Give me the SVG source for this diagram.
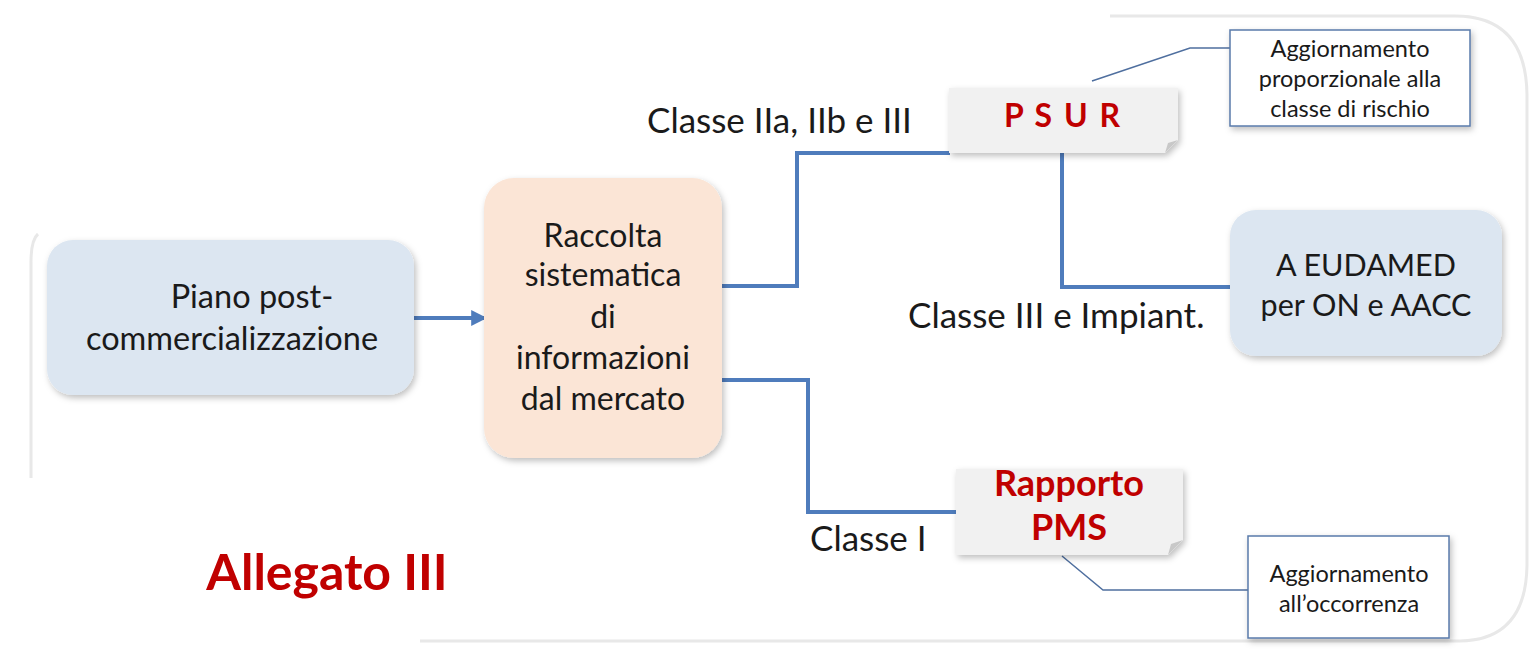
<svg xmlns="http://www.w3.org/2000/svg" width="1532" height="649" viewBox="0 0 1532 649">
<defs>
<style>
.t{font-family:Lato,"Liberation Sans",sans-serif;fill:#1a1a1a;text-anchor:middle}
.lbl{font-family:Lato,"Liberation Sans",sans-serif;fill:#1a1a1a;font-size:35px}
.red{font-family:Lato,"Liberation Sans",sans-serif;fill:#c00000;font-weight:bold;text-anchor:middle}
.conn{fill:none;stroke:#4f7cbc;stroke-width:4}
.thin{fill:none;stroke:#4f6f9f;stroke-width:1.5}
.frame{fill:none;stroke:#e8e8e8;stroke-width:3}
.call{fill:#ffffff;stroke:#5a7bab;stroke-width:1.5}
.note{fill:#f1f1f1}
</style>
<filter id="sh" x="-10%" y="-10%" width="125%" height="130%">
<feDropShadow dx="2" dy="3" stdDeviation="3" flood-color="#000" flood-opacity="0.25"/>
</filter>
<marker id="arr" viewBox="0 0 10 10" refX="8" refY="5" markerWidth="4" markerHeight="4" orient="auto">
<path d="M0,0 L10,5 L0,10 Z" fill="#4f7cbc"/>
</marker>
</defs>
<rect width="1532" height="649" fill="#ffffff"/>
<g id="frame">
<path class="frame" d="M1110 16 L1455 16 Q1526 16 1527 95 L1527 565 Q1526 640 1460 641 L420 641"/>
<path class="frame" d="M38 234 Q31 240 31 262 L31 478"/>
</g>
<g id="connectors">
<line class="conn" x1="414" y1="318" x2="484" y2="318" marker-end="url(#arr)"/>
<path class="conn" d="M722 286 L797 286 L797 153 L950 153"/>
<path class="conn" d="M722 380 L808 380 L808 512 L957 512"/>
<path class="conn" d="M1062 153 L1062 287 L1232 287"/>
<path class="thin" d="M1092 81 L1190 48 L1232 48"/>
<path class="thin" d="M1062 556 L1103 590 L1248 590"/>
</g>
<g id="piano">
<rect x="47" y="240" width="367" height="155" rx="26" fill="#dce6f1" filter="url(#sh)"/>
<text class="t" x="252" y="308" font-size="32.5">Piano post-</text>
<text class="t" x="232" y="350" font-size="32.5">commercializzazione</text>
</g>
<g id="raccolta">
<rect x="484" y="178" width="238" height="280" rx="30" fill="#fbe5d6" filter="url(#sh)"/>
<text class="t" x="603" y="247" font-size="32">Raccolta</text>
<text class="t" x="603" y="286" font-size="32">sistematica</text>
<text class="t" x="603" y="328" font-size="32">di</text>
<text class="t" x="603" y="369" font-size="32">informazioni</text>
<text class="t" x="603" y="410" font-size="32">dal mercato</text>
</g>
<g id="psur">
<path class="note" d="M949 88 L1178 88 L1178 140 L1165 153 L949 153 Z" filter="url(#sh)"/>
<path d="M1165 153 L1168 143 L1178 140 Z" fill="#c8c8c8"/>
<text class="red" x="1063" y="127" font-size="32" letter-spacing="2">P S U R</text>
</g>
<g id="eudamed">
<rect x="1230" y="210" width="272" height="146" rx="26" fill="#dce6f1" filter="url(#sh)"/>
<text class="t" x="1366" y="276" font-size="30.5">A EUDAMED</text>
<text class="t" x="1366" y="316" font-size="30.5">per ON e AACC</text>
</g>
<g id="pms">
<path class="note" d="M956 469 L1183 469 L1183 540 L1168 555 L956 555 Z" filter="url(#sh)"/>
<path d="M1168 555 L1171 544 L1183 540 Z" fill="#c8c8c8"/>
<text class="red" x="1069" y="496" font-size="36">Rapporto</text>
<text class="red" x="1069" y="540" font-size="36">PMS</text>
</g>
<g id="callout1">
<rect class="call" x="1230" y="30" width="240" height="96" filter="url(#sh)"/>
<text class="t" x="1350" y="57" font-size="23.5">Aggiornamento</text>
<text class="t" x="1350" y="87" font-size="23.5">proporzionale alla</text>
<text class="t" x="1350" y="117" font-size="23.5">classe di rischio</text>
</g>
<g id="callout2">
<rect class="call" x="1248" y="536" width="201" height="102" filter="url(#sh)"/>
<text class="t" x="1349" y="582" font-size="23.5">Aggiornamento</text>
<text class="t" x="1349" y="612" font-size="23.5">all’occorrenza</text>
</g>
<g id="labels">
<text class="lbl" x="647" y="133">Classe IIa, IIb e III</text>
<text class="lbl" x="908" y="328">Classe III e Impiant.</text>
<text class="lbl" x="810" y="551">Classe I</text>
<text class="red" x="327" y="590" font-size="50" style="text-anchor:middle">Allegato III</text>
</g>
</svg>
